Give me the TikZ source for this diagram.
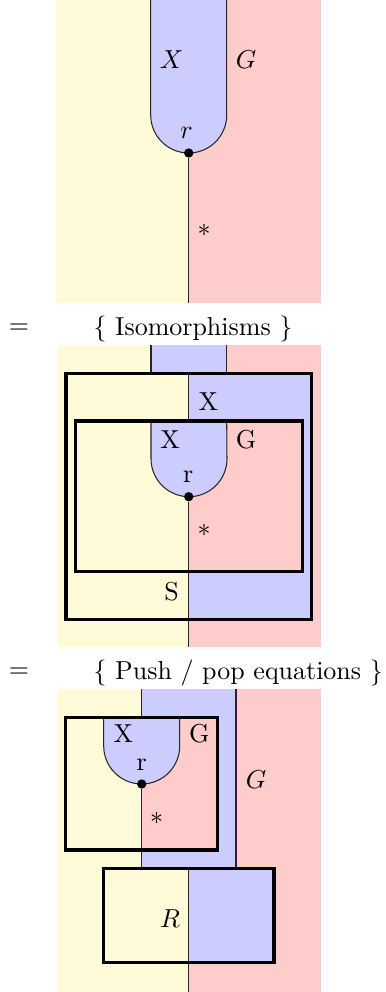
\documentclass[tikz,border=0pt]{standalone}
\usetikzlibrary{calc}
\definecolor{yel}{RGB}{255,250,215}
\definecolor{blu}{RGB}{204,204,255}
\definecolor{rd}{RGB}{255,204,204}
\tikzset{
  wire/.style={line width=0.4pt, draw=black!85},
  boxline/.style={line width=1.2pt, draw=black},
  dotnode/.style={circle, fill=black, inner sep=0pt, minimum size=3.6pt},
  lbl/.style={inner sep=0pt}
}
\begin{document}
\begin{tikzpicture}[x=0.385pt, y=-0.385pt]
\useasboundingbox (0,0) rectangle (386,992);
% ---------- Panel 1 ----------
\fill[yel] (56,0) rectangle (321,303);
\fill[rd] (188.7,0) rectangle (321,303);
\fill[blu] (150.7,0) -- (150.7,115) arc[start angle=180, end angle=0, radius=38] -- (226.7,0) -- cycle;
\draw[wire] (150.7,0) -- (150.7,115) arc[start angle=180, end angle=0, radius=38] -- (226.7,0);
\node[dotnode] (r1) at (188.7,153) {};
\coordinate (b1) at (188.7,303);
\draw[wire] (r1) -- (b1);
\node[lbl] (x1) at (171.7,60) {$X$};
\node[lbl] (g1) at (246,60) {$G$};
\node[lbl] (rl1) at (186.7,133) {$r$};
\node[lbl] (s1) at (204,230) {$*$};
% ---------- Equation 1 ----------
\node[lbl] (eq1) at (19,329) {$=$};
\node[lbl, anchor=west] (t1) at (93,329) {\{ Isomorphisms \}};
% ---------- Panel 2 ----------
\fill[yel] (56.7,345) rectangle (320.7,647);
\fill[rd] (188.7,345) rectangle (320.7,647);
\fill[blu] (151,345) rectangle (226.7,373.3);
\fill[blu] (188.7,373.3) rectangle (311.7,619.3);
\fill[yel] (75.7,421) rectangle (188.7,571.7);
\fill[rd] (188.7,421) rectangle (302.3,571.7);
\fill[blu] (151,421) -- (151,458.7) arc[start angle=180, end angle=0, radius=38] -- (226.7,421) -- cycle;
\draw[wire] (151,345) -- (151,373.3);
\draw[wire] (226.7,345) -- (226.7,373.3);
\draw[wire] (188.7,373.3) -- (188.7,421);
\draw[wire] (151,421) -- (151,458.7) arc[start angle=180, end angle=0, radius=38] -- (226.7,421);
\node[dotnode] (r2) at (188.7,496.7) {};
\coordinate (b2) at (188.7,647);
\draw[wire] (r2) -- (b2);
\node[boxline, draw, rectangle, inner sep=0pt, minimum width=245.7*0.385pt, minimum height=246*0.385pt] (S) at (188.85,496.3) {};
\node[boxline, draw, rectangle, inner sep=0pt, minimum width=226.6*0.385pt, minimum height=150.7*0.385pt] (in2) at (189,496.35) {};
\node[lbl] (x2a) at (208.3,401.7) {X};
\node[lbl] (x2b) at (170,440) {X};
\node[lbl] (g2) at (246,440) {G};
\node[lbl] (rl2) at (188.3,476.7) {r};
\node[lbl] (s2) at (204,530) {$*$};
\node[lbl] (S2) at (171.7,591.7) {S};
% ---------- Equation 2 ----------
\node[lbl] (eq2) at (19,673) {$=$};
\node[lbl, anchor=west] (t2) at (93,673) {\{ Push / pop equations \}};
% ---------- Panel 3 ----------
\fill[yel] (56.7,689.3) rectangle (320.7,991.7);
\fill[rd] (188.7,689.3) rectangle (320.7,991.7);
\fill[blu] (141.7,689.3) rectangle (236,868.3);
\fill[yel] (65.7,717.7) rectangle (141.7,850);
\fill[rd] (141.7,717.7) rectangle (217.3,850);
\fill[blu] (103.7,717.7) -- (103.7,746) arc[start angle=180, end angle=0, radius=38] -- (179.7,717.7) -- cycle;
\fill[yel] (103.3,868.3) rectangle (188.7,962.7);
\fill[blu] (188.7,868.3) rectangle (274,962.7);
\draw[wire] (141.7,689.3) -- (141.7,717.7);
\draw[wire] (236,689.3) -- (236,868.3);
\draw[wire] (103.7,717.7) -- (103.7,746) arc[start angle=180, end angle=0, radius=38] -- (179.7,717.7);
\node[dotnode] (r3) at (141.7,784) {};
\coordinate (b3) at (141.7,868.3);
\draw[wire] (r3) -- (b3);
\draw[wire] (188.7,868.3) -- (188.7,991.7);
\node[boxline, draw, rectangle, inner sep=0pt, minimum width=151.6*0.385pt, minimum height=132.3*0.385pt] (bx3) at (141.5,783.85) {};
\node[boxline, draw, rectangle, inner sep=0pt, minimum width=170.7*0.385pt, minimum height=94.4*0.385pt] (R) at (188.65,915.5) {};
\node[lbl] (x3) at (123.3,733.3) {X};
\node[lbl] (g3) at (199.3,733.3) {G};
\node[lbl] (rl3) at (141.7,765) {r};
\node[lbl] (s3) at (156.7,818.3) {$*$};
\node[lbl] (G3) at (256,780) {$G$};
\node[lbl] (R3) at (170,918.3) {$R$};
\end{tikzpicture}
\end{document}
